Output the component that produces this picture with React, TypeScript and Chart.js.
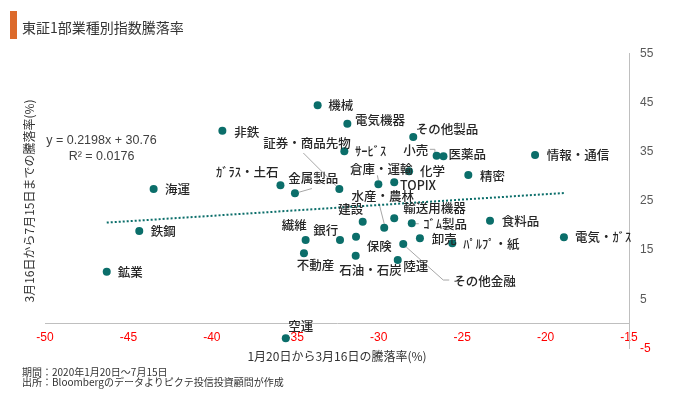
import React, { useEffect, useRef } from 'react';
import { Chart, registerables } from 'chart.js';

Chart.register(...registerables);

// ---- data ----
const SECTORS = [
  '非鉄', '海運', '鉄鋼', '鉱業', 'ｶﾞﾗｽ・土石', '金属製品', '証券・商品先物', '機械', '電気機器', 'その他製品',
  'ｻｰﾋﾞｽ', '小売', '医薬品', '化学', '倉庫・運輸', 'TOPIX', '精密', '情報・通信', '水産・農林', '建設',
  '輸送用機器', 'ｺﾞﾑ製品', '繊維', '銀行', '保険', 'その他金融', '卸売', 'ﾊﾟﾙﾌﾟ・紙', '不動産', '石油・石炭',
  '陸運', '食料品', '電気・ｶﾞｽ', '空運',
];
// 1/20 -> 3/16 change (%)
const X_VALUES = [
  -39.37, -43.49, -44.35, -46.30, -35.89, -35.02, -32.36, -33.66, -31.88, -27.93,
  -32.06, -26.53, -26.12, -28.18, -30.02, -29.07, -24.63, -20.63, -29.67, -30.96,
  -29.07, -28.02, -34.38, -32.32, -31.36, -28.53, -27.53, -25.59, -34.48, -31.38,
  -28.86, -23.33, -18.90, -35.57,
];
// 3/16 -> 7/15 change (%)
const Y_VALUES = [
  39.27, 27.42, 18.87, 10.60, 28.17, 26.56, 27.42, 44.44, 40.70, 37.99,
  35.08, 34.19, 34.07, 31.01, 28.37, 28.78, 30.26, 34.33, 19.54, 20.76,
  21.46, 20.44, 17.04, 17.04, 17.71, 16.23, 17.39, 16.37, 14.34, 13.85,
  12.98, 20.97, 17.59, -2.95,
];
const X_TICKS = [-50, -45, -40, -35, -30, -25, -20, -15];
const Y_TICKS = [-5, 5, 15, 25, 35, 45, 55];
const TREND_SLOPE = 0.2198;
const TREND_INTERCEPT = 30.76;
const TREND_TEXT = ['y = 0.2198x + 30.76', 'R² = 0.0176'];

const TITLE = '東証1部業種別指数騰落率';
const X_TITLE = '1月20日から3月16日の騰落率(%)';
const Y_TITLE = '3月16日から7月15日までの騰落率(%)';
const NOTES = ['期間：2020年1月20日～7月15日', '出所：Bloombergのデータよりピクテ投信投資顧問が作成'];

// ---- label placement (pixel offsets from each dot) ----
const LABEL_OFFSETS: [number, number][] = [
  [12, 1.6], [11.3, 0.3], [11.4, 0.7], [11, 0.6], [-64.5, -13.2], [-6.7, -15], [-76, -45.7], [10.7, 0], [7.7, -3.7], [2.4, -8],
  [10.7, 0], [-33.4, -5.7], [5, -2], [11, 0.3], [-28.3, -15], [5.7, 2.7], [11.7, 1], [11.7, 0.7], [-32.6, -31.7], [-24.4, -12.4],
  [9, -10], [11.6, 0.7], [-24, -15], [-26.7, -9.3], [10.7, 9.3], [50, 37.7], [11.7, 0.7], [11, 1], [-7.3, 12.4], [-16.4, 14.3],
  [5.6, 6], [11.7, 1], [11, 0], [2.6, -12.3],
];
const LEADERS: { [k: number]: [number, number][] } = {
  5: [[17, -4.7], [4, -1]],
  6: [[-36, -36], [-3, -3]],
  11: [[-6.7, -6.4], [-1.7, -6.4], [-1.7, -3]],
  14: [[-1, -9], [0, -4]],
  18: [[-5.3, -24.7], [0, -4]],
  21: [[4, 0.4], [7, 0.4]],
  25: [[3, 3], [40, 36], [46, 36]],
};

const TEAL = '#0B6E6A';
const LABEL_FONT = '500 12.5px "Noto Sans CJK JP"';
const CJK = '"Noto Sans CJK JP", sans-serif';

const labelPlugin = {
  id: 'sectorLabels',
  beforeDatasetsDraw(chart: any) {
    const ctx = chart.ctx;
    const meta = chart.getDatasetMeta(0);
    ctx.save();
    ctx.strokeStyle = '#A6A6A6';
    ctx.lineWidth = 1;
    Object.keys(LEADERS).forEach((k) => {
      const i = Number(k);
      const el = meta.data[i];
      if (!el) return;
      const pts = LEADERS[i];
      ctx.beginPath();
      pts.forEach(([dx, dy], j) => {
        if (j === 0) ctx.moveTo(el.x + dx, el.y + dy);
        else ctx.lineTo(el.x + dx, el.y + dy);
      });
      ctx.stroke();
    });
    ctx.restore();
  },
  afterDatasetsDraw(chart: any) {
    const ctx = chart.ctx;
    const meta = chart.getDatasetMeta(0);
    ctx.save();
    ctx.font = LABEL_FONT;
    ctx.fillStyle = '#262626';
    ctx.textAlign = 'left';
    ctx.textBaseline = 'middle';
    meta.data.forEach((el: any, i: number) => {
      const [dx, dy] = LABEL_OFFSETS[i];
      ctx.fillText(SECTORS[i], el.x + dx, el.y + dy);
    });
    // trendline equation
    const ca = chart.chartArea;
    ctx.font = '12.5px "Liberation Sans"';
    ctx.fillStyle = '#404040';
    ctx.textAlign = 'center';
    ctx.fillText(TREND_TEXT[0], ca.left + 56.5, ca.top + 87.3);
    ctx.fillText(TREND_TEXT[1], ca.left + 56.5, ca.top + 103.3);
    ctx.restore();
  },
};

export default function App() {
  const ref = useRef<HTMLCanvasElement | null>(null);

  useEffect(() => {
    if (!ref.current) return;
    const points = X_VALUES.map((x, i) => ({ x, y: Y_VALUES[i] }));
    const xMin = Math.min(...X_VALUES);
    const xMax = Math.max(...X_VALUES);
    const trend = [
      { x: xMin, y: TREND_SLOPE * xMin + TREND_INTERCEPT },
      { x: xMax, y: TREND_SLOPE * xMax + TREND_INTERCEPT },
    ];
    const tickFont = { family: '"Liberation Sans", Arial, sans-serif', size: 12 };
    const chart = new Chart(ref.current, {
      type: 'scatter',
      data: {
        datasets: [
          {
            label: 'sectors',
            data: points,
            backgroundColor: TEAL,
            borderColor: TEAL,
            pointRadius: 4,
            pointBorderWidth: 0,
            order: 1,
          } as any,
          {
            type: 'line',
            label: 'trend',
            data: trend,
            showLine: true,
            borderColor: TEAL,
            borderWidth: 2,
            borderDash: [2, 2],
            borderCapStyle: 'butt',
            pointRadius: 0,
            fill: false,
            order: 2,
          } as any,
        ],
      },
      options: {
        animation: false,
        responsive: false,
        maintainAspectRatio: false,
        devicePixelRatio: 1,
        layout: { padding: { left: 0, right: 11, top: 53.4, bottom: 47.6 } },
        plugins: { legend: { display: false }, tooltip: { enabled: false }, title: { display: false } },
        events: [],
        scales: {
          x: {
            type: 'linear',
            axis: 'x',
            min: -50,
            max: -15,
            position: { y: 0 } as any,
            grid: { display: false, drawTicks: false, tickLength: 0 },
            border: { display: true, color: '#BFBFBF', width: 1 },
            ticks: { color: '#FF0000', font: tickFont, padding: 7, maxRotation: 0, autoSkip: false },
            afterBuildTicks: (s: any) => { s.ticks = X_TICKS.map((v) => ({ value: v })); },
            afterFit: (s: any) => { s.height = 39.4; },
            title: {
              display: true,
              text: X_TITLE,
              color: '#333333',
              font: { family: CJK, size: 12 },
              padding: { top: 0, bottom: 0 },
            },
          } as any,
          y: {
            type: 'linear',
            min: -5,
            max: 55,
            position: 'right',
            grid: { display: false, drawTicks: false, tickLength: 0 },
            border: { display: true, color: '#BFBFBF', width: 1 },
            ticks: {
              color: (c: any) => (c.tick && c.tick.value < 0 ? '#FF0000' : '#595959'),
              font: tickFont,
              padding: 11,
              autoSkip: false,
            },
            afterBuildTicks: (s: any) => { s.ticks = Y_TICKS.map((v) => ({ value: v })); },
            afterFit: (s: any) => { s.width = 40; },
          } as any,
          yLeft: {
            type: 'linear',
            position: 'left',
            display: true,
            grid: { display: false, drawTicks: false, tickLength: 0 },
            border: { display: false },
            ticks: { display: false },
            afterFit: (s: any) => { s.width = 45; },
            title: {
              display: true,
              text: Y_TITLE,
              color: '#333333',
              font: { family: CJK, size: 12 },
              padding: { top: 22, bottom: 0 },
            },
          } as any,
        },
      },
      plugins: [labelPlugin],
    });
    return () => chart.destroy();
  }, []);

  return (
    <div style={{ position: 'absolute', left: 0, top: 0, width: 680, height: 396, background: '#ffffff', overflow: 'hidden' }}>
      <canvas ref={ref} width={680} height={396} style={{ position: 'absolute', left: 0, top: 0, width: 680, height: 396 }} />
      <div style={{ position: 'absolute', left: 10, top: 11, width: 7, height: 28, background: '#DC6A2C' }} />
      <div style={{ position: 'absolute', left: 22, top: 17, fontFamily: CJK, fontSize: 14, lineHeight: '20px', color: '#333333', whiteSpace: 'nowrap' }}>
        {TITLE}
      </div>
      <div style={{ position: 'absolute', left: 22, top: 366.5, fontFamily: CJK, fontSize: 10, lineHeight: '10.5px', color: '#333333', whiteSpace: 'nowrap' }}>
        <div>{NOTES[0]}</div>
        <div>{NOTES[1]}</div>
      </div>
    </div>
  );
}
